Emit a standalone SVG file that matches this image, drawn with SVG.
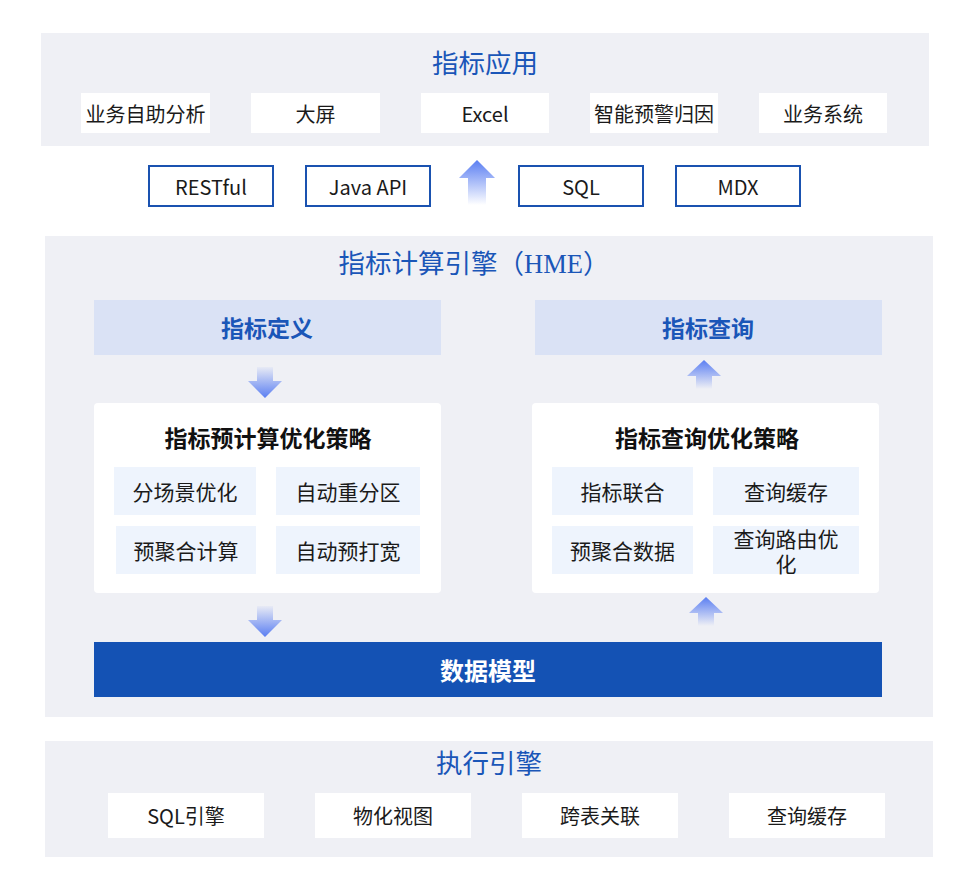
<svg xmlns="http://www.w3.org/2000/svg" width="955" height="885" viewBox="0 0 955 885">
<defs>
<linearGradient id="gUp" x1="0" y1="0" x2="0" y2="1">
<stop offset="0" stop-color="#5a7ef2"/>
<stop offset="1" stop-color="#5a7ef2" stop-opacity="0"/>
</linearGradient>
<linearGradient id="gDown" x1="0" y1="1" x2="0" y2="0">
<stop offset="0" stop-color="#5a7ef2"/>
<stop offset="1" stop-color="#5a7ef2" stop-opacity="0.05"/>
</linearGradient>
<style>
.panel{fill:#eff0f5}
.wbox{fill:#ffffff}
.pbox{fill:#ffffff;stroke:#1a52b0;stroke-width:2}
.hdr{fill:#dae2f5}
.sub{fill:#eef4fd}
.card{fill:#ffffff}
.t{font-family:"Noto Sans CJK SC","Liberation Sans",sans-serif;font-size:20px;fill:#1a1a1a;text-anchor:middle;dominant-baseline:central}
.s{font-size:21px}
.title{font-family:"Liberation Serif","Noto Sans CJK SC",serif;font-size:26.5px;fill:#1a56b8;text-anchor:middle;dominant-baseline:central}
.hd{font-family:"Noto Sans CJK SC",sans-serif;font-size:23px;font-weight:bold;fill:#1a56b8;text-anchor:middle;dominant-baseline:central}
.ct{font-family:"Noto Sans CJK SC",sans-serif;font-size:23px;font-weight:bold;fill:#111;text-anchor:middle;dominant-baseline:central}
</style>
</defs>
<rect width="955" height="885" fill="#ffffff"/>

<g id="layer-app">
<rect class="panel" x="41" y="33" width="888" height="113"/>
<text class="title" x="485" y="64">指标应用</text>
</g>
<g id="app-1"><rect class="wbox" x="81" y="93" width="129" height="40"/><text class="t" x="145.5" y="113">业务自助分析</text></g>
<g id="app-2"><rect class="wbox" x="251" y="93" width="129" height="40"/><text class="t" x="315.5" y="113">大屏</text></g>
<g id="app-3"><rect class="wbox" x="421" y="93" width="128" height="40"/><text class="t" x="485" y="113">Excel</text></g>
<g id="app-4"><rect class="wbox" x="590" y="93" width="128" height="40"/><text class="t" x="654" y="113">智能预警归因</text></g>
<g id="app-5"><rect class="wbox" x="759" y="93" width="128" height="40"/><text class="t" x="823" y="113">业务系统</text></g>

<g id="api-restful"><rect class="pbox" x="149" y="166" width="124" height="40"/><text class="t" x="211" y="186">RESTful</text></g>
<g id="api-java"><rect class="pbox" x="306" y="166" width="124" height="40"/><text class="t" x="368" y="186">Java API</text></g>
<g id="api-sql"><rect class="pbox" x="519" y="166" width="124" height="40"/><text class="t" x="581" y="186">SQL</text></g>
<g id="api-mdx"><rect class="pbox" x="676" y="166" width="124" height="40"/><text class="t" x="738" y="186">MDX</text></g>

<g id="layer-hme">
<rect class="panel" x="45" y="236" width="888" height="481"/>
<text class="title" x="474" y="264">指标计算引擎（HME）</text>
</g>
<g id="def"><rect class="hdr" x="94" y="300" width="347" height="55"/><text class="hd" x="267" y="327">指标定义</text></g>
<g id="query"><rect class="hdr" x="535" y="300" width="347" height="55"/><text class="hd" x="708" y="327">指标查询</text></g>

<g id="card-pre">
<rect class="card" x="94" y="403" width="347" height="190" rx="4"/>
<text class="ct" x="268" y="437">指标预计算优化策略</text>
<rect class="sub" x="114" y="467" width="142" height="48"/><text class="t s" x="185" y="491">分场景优化</text>
<rect class="sub" x="276" y="467" width="144" height="48"/><text class="t s" x="348" y="491">自动重分区</text>
<rect class="sub" x="116" y="526" width="140" height="48"/><text class="t s" x="186" y="550">预聚合计算</text>
<rect class="sub" x="276" y="526" width="144" height="48"/><text class="t s" x="348" y="550">自动预打宽</text>
</g>
<g id="card-query">
<rect class="card" x="532" y="403" width="347" height="190" rx="4"/>
<text class="ct" x="707" y="437">指标查询优化策略</text>
<rect class="sub" x="552" y="467" width="141" height="48"/><text class="t s" x="622.5" y="491">指标联合</text>
<rect class="sub" x="713" y="467" width="146" height="48"/><text class="t s" x="786" y="491">查询缓存</text>
<rect class="sub" x="552" y="526" width="141" height="48"/><text class="t s" x="622.5" y="550">预聚合数据</text>
<rect class="sub" x="713" y="526" width="146" height="48"/>
<text class="t s" x="786" y="538"><tspan x="786" y="538">查询路由优</tspan><tspan x="786" y="563">化</tspan></text>
</g>

<g id="model"><rect x="94" y="642" width="788" height="55" fill="#1452b4"/><text class="hd" x="488" y="669" style="fill:#ffffff;font-size:24px">数据模型</text></g>

<g id="layer-exec">
<rect class="panel" x="45" y="741" width="888" height="116"/>
<text class="title" x="489" y="764">执行引擎</text>
</g>
<g id="exec-1"><rect class="wbox" x="108" y="793" width="156" height="45"/><text class="t" x="186" y="815">SQL引擎</text></g>
<g id="exec-2"><rect class="wbox" x="315" y="793" width="156" height="45"/><text class="t" x="393" y="815">物化视图</text></g>
<g id="exec-3"><rect class="wbox" x="522" y="793" width="156" height="45"/><text class="t" x="600" y="815">跨表关联</text></g>
<g id="exec-4"><rect class="wbox" x="729" y="793" width="156" height="45"/><text class="t" x="807" y="815">查询缓存</text></g>

<g id="connectors">
<path d="M477 160 L495 178 L486 178 L486 205 L468 205 L468 178 L459 178 Z" fill="url(#gUp)"/>
<path d="M265 398 L282 381 L273 381 L273 367 L257 367 L257 381 L248 381 Z" fill="url(#gDown)"/>
<path d="M704 360 L721 376 L712 376 L712 389 L696 389 L696 376 L687 376 Z" fill="url(#gUp)"/>
<path d="M265 637 L282 620 L273 620 L273 606 L257 606 L257 620 L248 620 Z" fill="url(#gDown)"/>
<path d="M706 597 L723 613 L714 613 L714 626 L698 626 L698 613 L689 613 Z" fill="url(#gUp)"/>
</g>
</svg>
